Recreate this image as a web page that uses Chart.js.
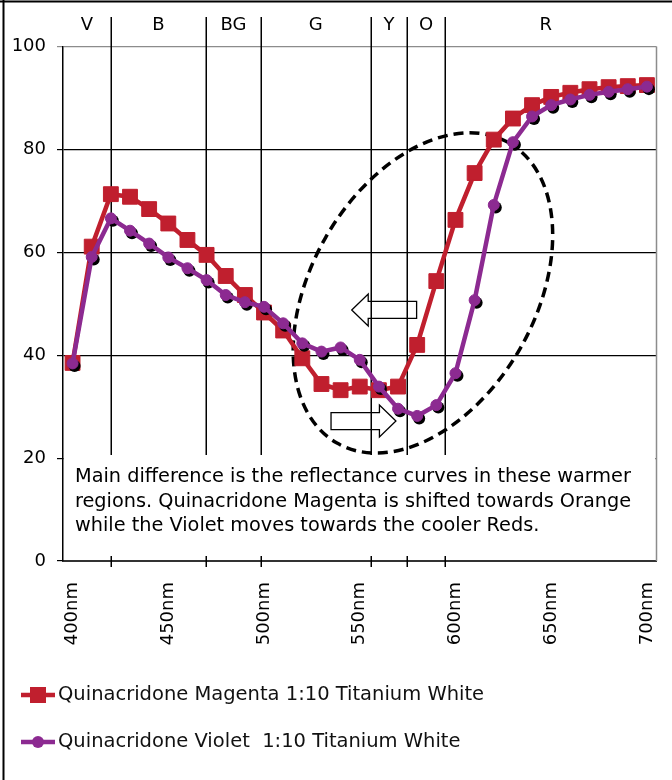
<!DOCTYPE html>
<html>
<head>
<meta charset="utf-8">
<style>
  html, body { margin: 0; padding: 0; background: #ffffff; }
  #wrap { position: relative; width: 672px; height: 780px; }
</style>
<script src="https://cdn.jsdelivr.net/npm/chart.js@4/dist/chart.umd.min.js"></script>
</head>
<body>
<div id="wrap"><canvas id="spectrum" width="672" height="780"></canvas></div>
<script>
// Reflectance (%) measured every 10 nm, 400–700 nm
const wavelengths = [400, 410, 420, 430, 440, 450, 460, 470, 480, 490, 500,
  510, 520, 530, 540, 550, 560, 570, 580, 590, 600,
  610, 620, 630, 640, 650, 660, 670, 680, 690, 700];
const magentaReflectance = [38.5, 61.1, 71.3, 70.8, 68.4, 65.6, 62.4, 59.5, 55.4, 51.7, 48.3,
  44.8, 39.4, 34.4, 33.2, 33.9, 33.2, 33.9, 42.0, 54.4, 66.3,
  75.4, 81.9, 86.0, 88.6, 90.2, 91.0, 91.7, 92.1, 92.3, 92.5];
const violetReflectance = [38.4, 59.1, 66.6, 64.2, 61.7, 59.0, 56.9, 54.6, 51.7, 50.3, 49.4,
  46.2, 42.3, 40.7, 41.5, 39.1, 33.9, 29.6, 28.2, 30.3, 36.5,
  50.7, 69.2, 81.4, 86.4, 88.6, 89.7, 90.6, 91.2, 91.7, 92.2];
const seriesNames = ['Quinacridone Magenta 1:10 Titanium White', 'Quinacridone Violet  1:10 Titanium White'];

// Axis ticks
const xTickValues = [400, 450, 500, 550, 600, 650, 700];
const yTickValues = [0, 20, 40, 60, 80, 100];

// Colour bands of the visible spectrum (boundaries in nm)
const bandNames = ['V', 'B', 'BG', 'G', 'Y', 'O', 'R'];
const bandEdges = [420, 469.7, 498.4, 555.7, 574.8, 594.4];

const noteLines = [
  'Main difference is the reflectance curves in these warmer',
  'regions. Quinacridone Magenta is shifted towards Orange',
  'while the Violet moves towards the cooler Reds.'
];

const FONT = "'DejaVu Sans', Verdana, sans-serif";
const MAGENTA = '#c01f2e';
const VIOLET = '#8c2a91';

// highlighted region (centre in data units, radii in px)
const highlight = { nm: 583, value: 52.1, rx: 173, ry: 112, angle: -60.2 };
// shift arrows: tail nm, tip nm, level %
const shiftLeft = { from: 579.7, to: 545.8, value: 48.8 };
const shiftRight = { from: 535.0, to: 568.9, value: 27.2 };

function drawArrow(ctx, x0, x1, yc) {
  const dir = Math.sign(x1 - x0);
  const headLen = 16.5, headHalf = 16, bodyHalf = 8.5;
  const xb = x1 - dir * headLen;
  ctx.beginPath();
  ctx.moveTo(x0, yc - bodyHalf);
  ctx.lineTo(xb, yc - bodyHalf);
  ctx.lineTo(xb, yc - headHalf);
  ctx.lineTo(x1, yc);
  ctx.lineTo(xb, yc + headHalf);
  ctx.lineTo(xb, yc + bodyHalf);
  ctx.lineTo(x0, yc + bodyHalf);
  ctx.closePath();
  ctx.fillStyle = '#ffffff';
  ctx.fill();
  ctx.lineWidth = 1.3;
  ctx.strokeStyle = '#000000';
  ctx.stroke();
}

const decor = {
  id: 'decor',
  beforeDatasetsDraw(chart) {
    const { ctx, chartArea: ca, scales: { x, y } } = chart;
    const boxTop = y.getPixelForValue(20) - 3;
    ctx.save();
    // note panel
    ctx.fillStyle = '#ffffff';
    ctx.fillRect(ca.left + 1, boxTop, ca.right - ca.left - 2, ca.bottom - boxTop - 1.5);
    // right edge of plot
    ctx.strokeStyle = '#8c8c8c';
    ctx.lineWidth = 1.5;
    ctx.beginPath();
    ctx.moveTo(ca.right, ca.top);
    ctx.lineTo(ca.right, ca.bottom);
    ctx.stroke();
    // arrows
    drawArrow(ctx, x.getPixelForValue(shiftLeft.from), x.getPixelForValue(shiftLeft.to), y.getPixelForValue(shiftLeft.value));
    drawArrow(ctx, x.getPixelForValue(shiftRight.from), x.getPixelForValue(shiftRight.to), y.getPixelForValue(shiftRight.value));
    // band boundaries
    ctx.strokeStyle = '#000000';
    ctx.lineWidth = 1.5;
    bandEdges.forEach(nm => {
      const px = Math.round(x.getPixelForValue(nm)) + 0.25;
      ctx.beginPath();
      ctx.moveTo(px, 17);
      ctx.lineTo(px, boxTop);
      ctx.moveTo(px, ca.bottom - 5);
      ctx.lineTo(px, ca.bottom + 6);
      ctx.stroke();
    });
    // dashed highlight ellipse
    ctx.setLineDash([10, 6]);
    ctx.lineWidth = 3.5;
    ctx.beginPath();
    ctx.ellipse(x.getPixelForValue(highlight.nm), y.getPixelForValue(highlight.value),
      highlight.rx, highlight.ry, highlight.angle * Math.PI / 180, 0, Math.PI * 2);
    ctx.stroke();
    ctx.restore();
  },
  beforeDatasetDraw(chart, args) {
    // drop shadow under the violet markers
    if (chart.data.datasets[args.index].label !== seriesNames[1]) return;
    const ctx = chart.ctx;
    ctx.save();
    ctx.fillStyle = '#000000';
    args.meta.data.forEach(pt => {
      ctx.beginPath();
      ctx.arc(pt.x + 2, pt.y + 2.5, 6, 0, Math.PI * 2);
      ctx.fill();
    });
    ctx.restore();
  },
  afterDraw(chart) {
    const { ctx, chartArea: ca, scales: { x, y } } = chart;
    ctx.save();
    // band names
    ctx.fillStyle = '#000000';
    ctx.font = '18px ' + FONT;
    ctx.textAlign = 'center';
    ctx.textBaseline = 'middle';
    const edges = [x.min, ...bandEdges, 700];
    bandNames.forEach((name, i) => {
      const cx = (x.getPixelForValue(edges[i]) + x.getPixelForValue(edges[i + 1])) / 2;
      ctx.fillText(name, cx, 25);
    });
    // note
    ctx.font = '19.3px ' + FONT;
    ctx.textAlign = 'left';
    ctx.textBaseline = 'alphabetic';
    noteLines.forEach((line, i) => ctx.fillText(line, ca.left + 12, 482 + i * 24.5));
    // legend
    const rows = [
      { name: seriesNames[0], color: MAGENTA, style: 'rect', yc: 695 },
      { name: seriesNames[1], color: VIOLET, style: 'circle', yc: 742 }
    ];
    rows.forEach(r => {
      ctx.strokeStyle = r.color;
      ctx.fillStyle = r.color;
      ctx.lineWidth = 4.5;
      ctx.beginPath();
      ctx.moveTo(21, r.yc);
      ctx.lineTo(55, r.yc);
      ctx.stroke();
      ctx.beginPath();
      if (r.style === 'rect') ctx.rect(30, r.yc - 8, 16, 16);
      else ctx.arc(38, r.yc, 6, 0, Math.PI * 2);
      ctx.fill();
      ctx.fillStyle = '#111111';
      ctx.font = '19.5px ' + FONT;
      ctx.textBaseline = 'middle';
      ctx.fillText(r.name, 58, r.yc);
    });
    // frame
    ctx.strokeStyle = '#000000';
    ctx.lineWidth = 2;
    ctx.beginPath();
    ctx.moveTo(0, 1.5);
    ctx.lineTo(672, 1.5);
    ctx.moveTo(3.5, 0);
    ctx.lineTo(3.5, 780);
    ctx.stroke();
    ctx.restore();
  }
};

new Chart(document.getElementById('spectrum'), {
  type: 'line',
  data: {
    datasets: [
      {
        label: seriesNames[0],
        data: wavelengths.map((w, i) => ({ x: w, y: magentaReflectance[i] })),
        borderColor: MAGENTA,
        backgroundColor: MAGENTA,
        borderWidth: 4.5,
        pointStyle: 'rect',
        pointRadius: 10.5,
        pointBorderWidth: 1,
        pointBorderColor: MAGENTA,
        pointBackgroundColor: MAGENTA,
        tension: 0,
        order: 1
      },
      {
        label: seriesNames[1],
        data: wavelengths.map((w, i) => ({ x: w, y: violetReflectance[i] })),
        borderColor: VIOLET,
        backgroundColor: VIOLET,
        borderWidth: 4.5,
        pointStyle: 'circle',
        pointRadius: 5.5,
        pointBorderWidth: 1,
        pointBorderColor: VIOLET,
        pointBackgroundColor: VIOLET,
        tension: 0,
        order: 0
      }
    ]
  },
  options: {
    responsive: false,
    devicePixelRatio: 1,
    animation: false,
    events: [],
    layout: { padding: { left: 3, top: 46.5, right: 15.5, bottom: 134 } },
    plugins: { legend: { display: false }, tooltip: { enabled: false }, title: { display: false } },
    scales: {
      x: {
        type: 'linear',
        min: 395,
        max: 705,
        afterBuildTicks: s => { s.ticks = xTickValues.map(v => ({ value: v })); },
        afterFit: s => { s.height = 85; s.paddingLeft = 0; s.paddingRight = 0; },
        ticks: {
          minRotation: 90, maxRotation: 90, autoSkip: false,
          padding: 13,
          color: '#000000',
          font: { family: FONT, size: 18 },
          callback: v => v + 'nm'
        },
        grid: { display: false },
        border: { display: true, color: '#333333', width: 2 }
      },
      y: {
        min: 0,
        max: 100,
        afterBuildTicks: s => { s.ticks = yTickValues.map(v => ({ value: v })); },
        afterFit: s => { s.width = 60; s.paddingTop = 0; s.paddingBottom = 0; },
        ticks: { padding: 11, color: '#000000', font: { family: FONT, size: 18 } },
        grid: {
          color: c => (c.tick && c.tick.value === 100 ? '#8c8c8c' : '#000000'),
          lineWidth: 1.2,
          tickLength: 6
        },
        border: { display: true, color: '#000000', width: 1.5 }
      }
    }
  },
  plugins: [decor]
});
</script>
</body>
</html>
